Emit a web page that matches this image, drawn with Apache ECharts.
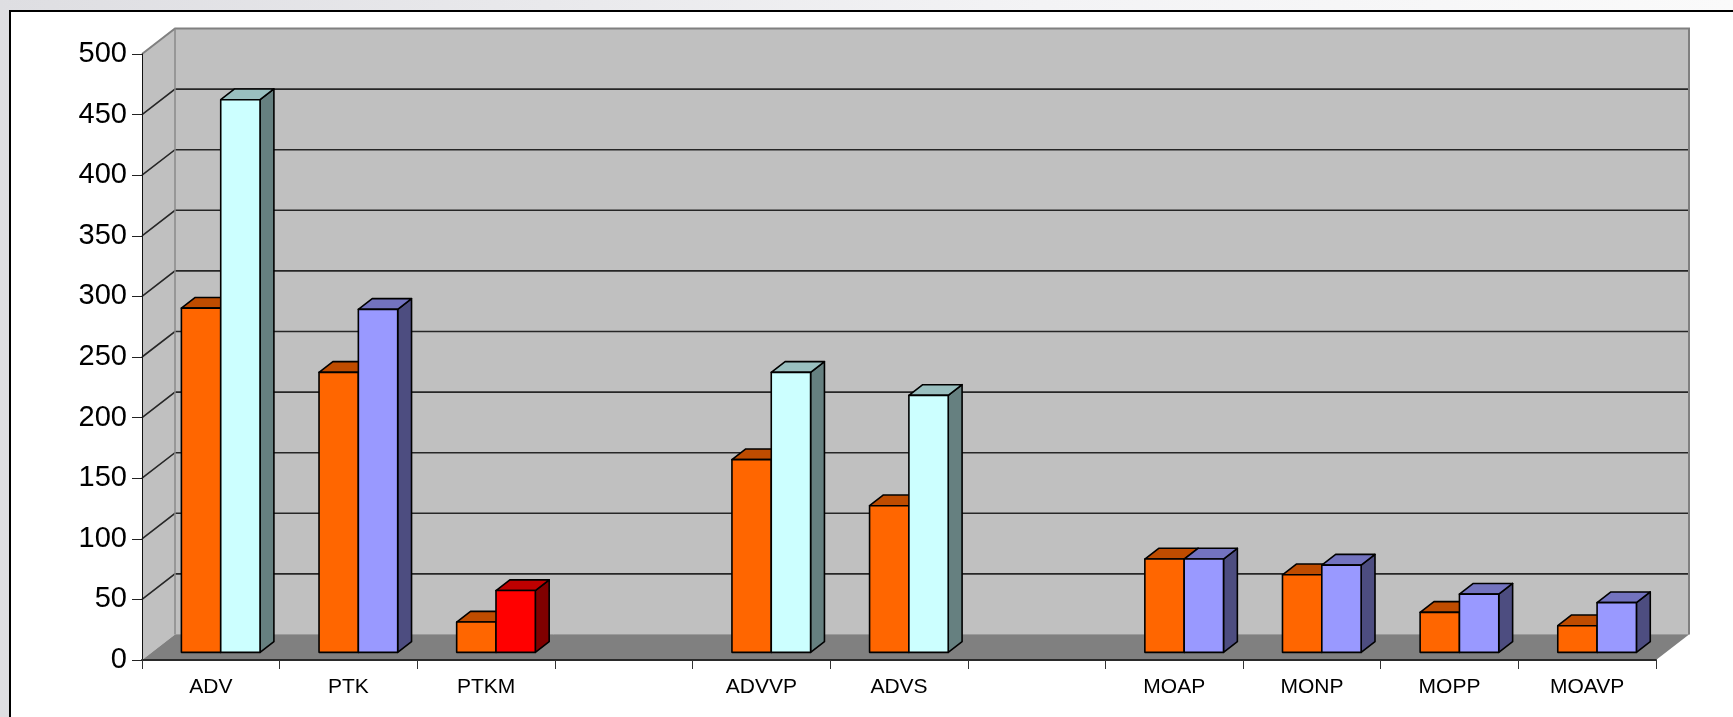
<!DOCTYPE html>
<html>
<head>
<meta charset="utf-8">
<title>Columns</title>
<script src="https://cdn.jsdelivr.net/npm/echarts@6/dist/echarts.min.js"></script>
<style>
  html, body { margin: 0; padding: 0; }
  body {
    width: 1733px; height: 717px; overflow: hidden; position: relative;
    background: linear-gradient(to right, #dedee2, #f3f3f5 60%, #fafafa);
  }
  #sheet {
    position: absolute; left: 9px; top: 10px; right: -4px; bottom: -4px;
    background: #ffffff;
    border-left: 2px solid #000; border-top: 2px solid #000;
  }
  #chart { position: absolute; left: 0; top: 0; width: 1733px; height: 717px; }
</style>
</head>
<body>
<div id="sheet"></div>
<div id="chart"></div>
<script>
// Category names (blank entries are spacer slots between the groups)
const categories = ['ADV', 'PTK', 'PTKM', '', 'ADVVP', 'ADVS', '', 'MOAP', 'MONP', 'MOPP', 'MOAVP'];
// First column of each group
const seriesA = [284, 231, 25, null, 159, 121, null, 77, 64, 33, 22];
// Second column of each group
const seriesB = [456, 283, 51, null, 231, 212, null, 77, 72, 48, 41];
// Colour key of the second column per category
const seriesBColors = ['cyan', 'blue', 'red', null, 'cyan', 'cyan', null, 'blue', 'blue', 'blue', 'blue'];
// Value axis ticks
const yTicks = [0, 50, 100, 150, 200, 250, 300, 350, 400, 450, 500];

// Face colours: front, top (75%), side (50%)
const shades = {
  orange: { front: '#FF6600', top: '#BF4C00', side: '#803300' },
  cyan:   { front: '#CCFFFF', top: '#99BFBF', side: '#668080' },
  blue:   { front: '#9999FF', top: '#7373BF', side: '#4D4D80' },
  red:    { front: '#FF0000', top: '#BF0000', side: '#800000' }
};

// Oblique depth of the plot box, and where the columns sit inside it
const DX = 33, DY = 25.5;
const BAR_Z0 = 0.30, BAR_DZ = 0.42;
const BARS_PER_SLOT = 3.5; // two columns + 150% gap

function pairs(values) {
  const out = [];
  values.forEach((v, i) => { if (v != null) out.push([i, v]); });
  return out;
}

function renderWalls(params, api) {
  const cs = params.coordSys;
  const x0 = cs.x, x1 = cs.x + cs.width, yTop = cs.y, yBot = cs.y + cs.height;
  const kids = [];
  kids.push({ type: 'polygon', shape: { points: [[x0, yTop], [x0 + DX, yTop - DY], [x0 + DX, yBot - DY], [x0, yBot]] },
    style: { fill: '#c0c0c0' } });
  kids.push({ type: 'rect', shape: { x: x0 + DX, y: yTop - DY, width: cs.width, height: cs.height },
    style: { fill: '#c0c0c0' } });
  kids.push({ type: 'polygon', shape: { points: [[x0, yBot], [x1, yBot], [x1 + DX, yBot - DY], [x0 + DX, yBot - DY]] },
    style: { fill: '#808080' } });
  const maxV = yTicks[yTicks.length - 1];
  yTicks.forEach(v => {
    if (v <= 0 || v >= maxV) return;
    const y = api.coord([0, v])[1];
    kids.push({ type: 'polyline', shape: { points: [[x0, y], [x0 + DX, y - DY], [x1 + DX, y - DY]] },
      style: { stroke: '#262626', lineWidth: 1.6, fill: null } });
  });
  // box edges
  kids.push({ type: 'polyline', shape: { points: [[x0, yTop], [x0 + DX, yTop - DY], [x1 + DX, yTop - DY], [x1 + DX, yBot - DY]] },
    style: { stroke: '#808080', lineWidth: 2, fill: null } });
  kids.push({ type: 'line', shape: { x1: x0 + DX, y1: yTop - DY, x2: x0 + DX, y2: yBot - DY },
    style: { stroke: '#8a8a8a', lineWidth: 1.5 } });
  kids.push({ type: 'line', shape: { x1: x0 + DX, y1: yBot - DY, x2: x1 + DX, y2: yBot - DY },
    style: { stroke: '#9a9a9a', lineWidth: 1 } });
  return { type: 'group', children: kids };
}

function makeBarRenderer(which) {
  return function (params, api) {
    const idx = api.value(0);
    const val = api.value(1);
    const slot = api.size([1, 0])[0];
    const bw = slot / BARS_PER_SLOT;
    const base = api.coord([idx, 0]);
    const topPt = api.coord([idx, val]);
    const fx = BAR_Z0 * DX, fy = BAR_Z0 * DY;
    const ddx = BAR_DZ * DX, ddy = BAR_DZ * DY;
    const cx = base[0] + fx;
    const L = which === 0 ? cx - bw : cx;
    const R = which === 0 ? cx : cx + bw;
    const yb = base[1] - fy;
    const yt = topPt[1] - fy;
    const key = which === 0 ? 'orange' : seriesBColors[idx];
    const c = shades[key];
    const edge = { stroke: '#000', lineWidth: 1.6, lineJoin: 'round' };
    return {
      type: 'group',
      children: [
        { type: 'polygon', shape: { points: [[R, yt], [R + ddx, yt - ddy], [R + ddx, yb - ddy], [R, yb]] },
          style: Object.assign({ fill: c.side }, edge) },
        { type: 'polygon', shape: { points: [[L, yt], [R, yt], [R + ddx, yt - ddy], [L + ddx, yt - ddy]] },
          style: Object.assign({ fill: c.top }, edge) },
        { type: 'rect', shape: { x: L, y: yt, width: R - L, height: yb - yt },
          style: Object.assign({ fill: c.front }, edge) }
      ]
    };
  };
}

const chart = echarts.init(document.getElementById('chart'), null, { renderer: 'canvas' });
chart.setOption({
  animation: false,
  backgroundColor: 'transparent',
  textStyle: { fontFamily: '"Liberation Sans", Arial, sans-serif' },
  grid: { left: 142, right: 77, top: 54, bottom: 57, containLabel: false },
  xAxis: {
    type: 'category',
    data: categories,
    z: 10,
    axisLine: { show: true, lineStyle: { color: '#2a2a2a', width: 2 } },
    axisTick: { show: true, interval: 0, length: 9, lineStyle: { color: '#333', width: 1 } },
    axisLabel: { interval: 0, margin: 17, fontSize: 21, color: '#000', fontFamily: '"Liberation Sans", Arial, sans-serif' },
    splitLine: { show: false }
  },
  yAxis: {
    type: 'value',
    min: 0, max: 500, interval: 50,
    z: 10,
    axisLine: { show: true, lineStyle: { color: '#111', width: 1 } },
    axisTick: { show: true, length: 10, lineStyle: { color: '#222', width: 1 } },
    axisLabel: { margin: 15, fontSize: 29, color: '#000', fontFamily: '"Liberation Sans", Arial, sans-serif' },
    splitLine: { show: false }
  },
  series: [
    { type: 'custom', name: 'walls', z: 1, silent: true, clip: false,
      renderItem: renderWalls, data: [[0, 0]] },
    { type: 'custom', name: 'A', z: 2, clip: false,
      renderItem: makeBarRenderer(0), data: pairs(seriesA) },
    { type: 'custom', name: 'B', z: 3, clip: false,
      renderItem: makeBarRenderer(1), data: pairs(seriesB) }
  ]
});
</script>
</body>
</html>
